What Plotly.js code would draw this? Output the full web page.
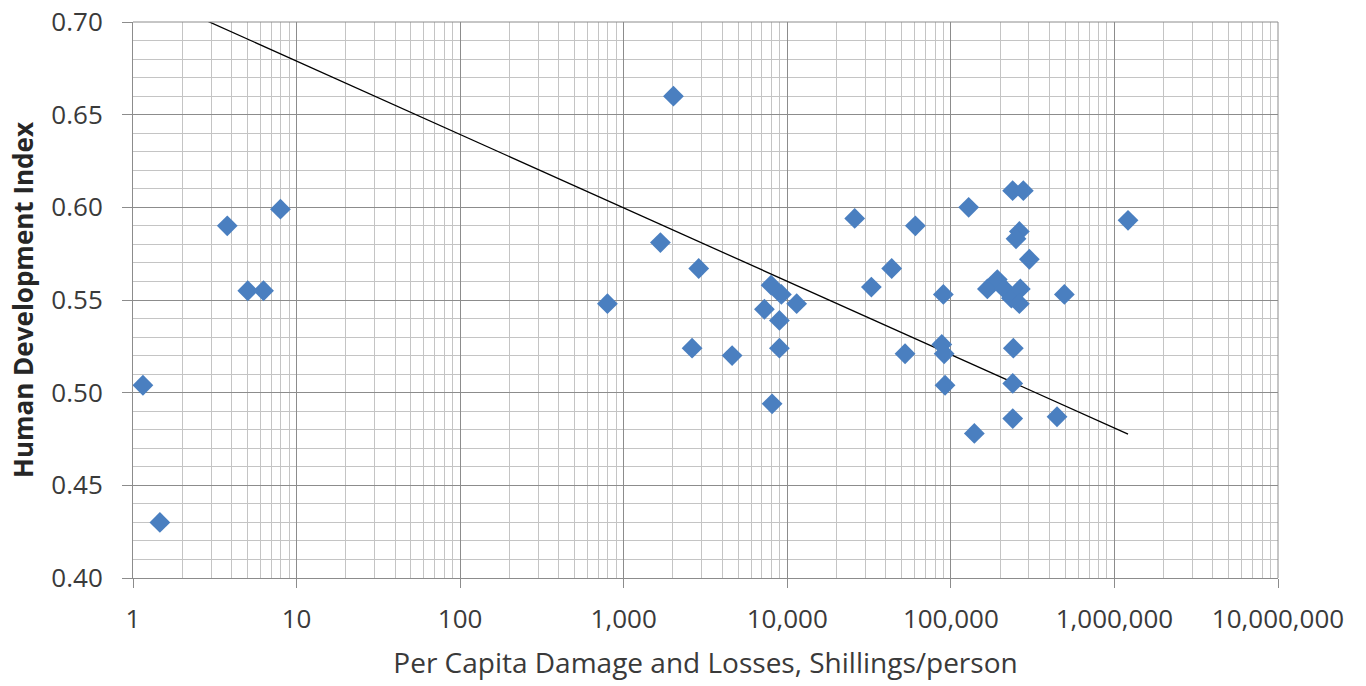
<!DOCTYPE html>
<html>
<head>
<meta charset="utf-8">
<script src="https://cdn.plot.ly/plotly-3.0.1.min.js"></script>
<style>
html,body{margin:0;padding:0;background:#fff;}
#chart{width:1366px;height:686px;}
</style>
</head>
<body>
<div id="chart"></div>
<script>
// Per capita damage and losses (Shillings/person)
const damagePerCapita = [
  1.15, 1.46, 3.77, 5.03, 6.28, 7.97,
  795, 1676, 2014, 2618, 2874, 4599,
  7245, 7962, 8075, 8950, 8950, 9204, 11414,
  25830, 32660, 43470, 52480, 60680,
  89960, 88000, 91000, 92150, 128500, 139200,
  167200, 192300, 212400, 234400, 266000, 262300,
  238600, 277400, 262300, 250200, 301800,
  241000, 239000, 239000, 445800, 494300, 1211000
];
// Human Development Index
const hdi = [
  0.504, 0.430, 0.590, 0.555, 0.555, 0.599,
  0.548, 0.581, 0.660, 0.524, 0.567, 0.520,
  0.545, 0.558, 0.494, 0.539, 0.524, 0.553, 0.548,
  0.594, 0.557, 0.567, 0.521, 0.590,
  0.553, 0.526, 0.521, 0.504, 0.600, 0.478,
  0.556, 0.561, 0.556, 0.551, 0.556, 0.548,
  0.609, 0.609, 0.587, 0.583, 0.572,
  0.524, 0.505, 0.486, 0.487, 0.553, 0.593
];
// Logarithmic trend line: y = trendIntercept + trendSlope * log10(x)
const trendIntercept = 0.7185;
const trendSlope = -0.0396;

const xMin = Math.min(...damagePerCapita);
const xMax = Math.max(...damagePerCapita);
const trendX = [xMin, xMax];
const trendY = trendX.map(v => trendIntercept + trendSlope * Math.log10(v));

const fontFam = '"Open Sans", "Noto Sans", sans-serif';
const traces = [
  {
    x: trendX, y: trendY, type: 'scatter', mode: 'lines',
    line: {color: '#000000', width: 1.3},
    hoverinfo: 'skip', showlegend: false
  },
  {
    x: damagePerCapita, y: hdi, type: 'scatter', mode: 'markers',
    marker: {symbol: 'diamond', size: 16, color: '#4a7fc0', line: {width: 0}},
    showlegend: false
  }
];

const layout = {
  width: 1366, height: 686,
  margin: {l: 133, r: 88, t: 22, b: 108},
  paper_bgcolor: '#ffffff', plot_bgcolor: '#ffffff',
  font: {family: fontFam, color: '#3a3a3a', size: 26},
  xaxis: {
    type: 'log', range: [0, 7], dtick: 1, tickformat: ',d',
    showgrid: true, gridcolor: '#8c8c8c', gridwidth: 1,
    minor: {dtick: 'D1', showgrid: true, gridcolor: '#c4c4c4', gridwidth: 1, ticks: ''},
    showline: true, linecolor: '#8c8c8c', linewidth: 1,
    ticks: 'outside', ticklen: 9, tickcolor: '#8c8c8c',
    ticklabelstandoff: 9,
    tickfont: {family: fontFam, size: 26, color: '#3a3a3a'},
    zeroline: false,
    title: {text: 'Per Capita Damage and Losses, Shillings/person', standoff: 18,
            font: {family: fontFam, size: 28, color: '#3a3a3a'}}
  },
  yaxis: {
    range: [0.4, 0.7], dtick: 0.05, tickformat: '.2f',
    showgrid: true, gridcolor: '#8c8c8c', gridwidth: 1,
    minor: {dtick: 0.01, showgrid: true, gridcolor: '#c4c4c4', gridwidth: 1, ticks: ''},
    showline: true, linecolor: '#8c8c8c', linewidth: 1,
    ticks: 'outside', ticklen: 10, tickcolor: '#8c8c8c',
    ticklabelstandoff: 14,
    tickfont: {family: fontFam, size: 26, color: '#3a3a3a'},
    zeroline: false,
    title: {text: '<b>Human Development Index</b>', standoff: 10,
            font: {family: fontFam, size: 26, color: '#262626'}}
  },
  shapes: [
    {type: 'line', xref: 'paper', yref: 'paper', x0: 1, x1: 1, y0: 0, y1: 1,
     line: {color: '#8c8c8c', width: 1}},
    {type: 'line', xref: 'paper', yref: 'paper', x0: 0, x1: 1, y0: 1, y1: 1,
     line: {color: '#8c8c8c', width: 1}}
  ]
};

Plotly.newPlot('chart', traces, layout, {displayModeBar: false, staticPlot: true});
</script>
</body>
</html>
